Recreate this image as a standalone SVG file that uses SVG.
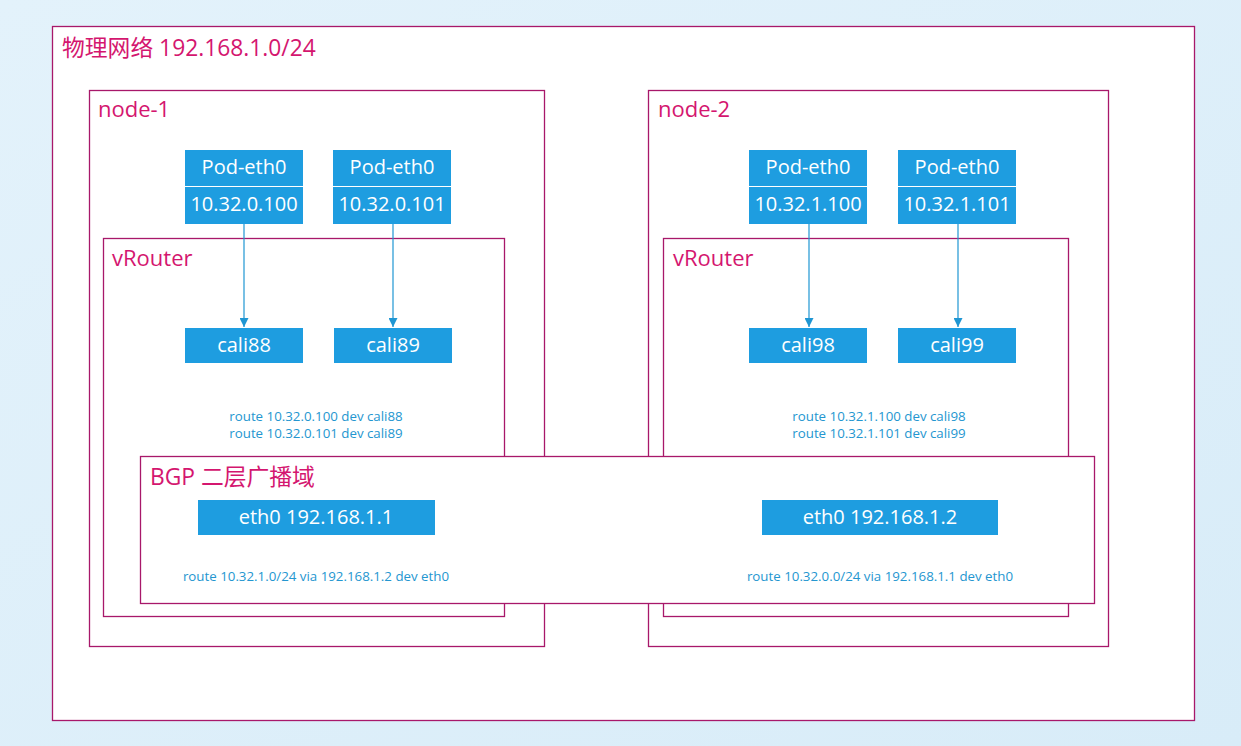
<svg xmlns="http://www.w3.org/2000/svg" width="1241" height="746" viewBox="0 0 1241 746">
<defs>
<linearGradient id="bg" x1="0" y1="0" x2="1" y2="1">
<stop offset="0" stop-color="#e3f2fb"/><stop offset="1" stop-color="#d8ecf8"/>
</linearGradient>
<marker id="arr" viewBox="0 0 10 10" refX="10" refY="5" markerWidth="9" markerHeight="9" markerUnits="userSpaceOnUse" orient="auto">
<path d="M0,0 L10,5 L0,10 z" fill="#1f96d3"/>
</marker>
<style>
.frame{fill:#fff;stroke:#a8186a;stroke-width:1.3}
.lbl{fill:#d4166f;font-family:"Open Sans","Noto Sans CJK SC",sans-serif;font-size:22px}
.big{font-size:22.8px}
.box{fill:#1e9de0}
.bt{fill:#fff;font-family:"Open Sans",sans-serif;font-size:20px;text-anchor:middle}
.rt{fill:#2496d0;font-family:"Open Sans",sans-serif;font-size:13.3px;text-anchor:middle}
.con{stroke:#1f96d3;stroke-width:1.2;fill:none}
</style>
</defs>
<rect width="1241" height="746" fill="url(#bg)"/>
<g id="physical">
<rect class="frame" x="52.5" y="26.5" width="1142" height="694"/>
<text class="lbl big" x="62" y="56">物理网络 192.168.1.0/24</text>
</g>
<g id="node-1">
<rect class="frame" x="89.5" y="90.5" width="455" height="556"/>
<text class="lbl" x="98" y="117">node-1</text>
</g>
<g id="node-2">
<rect class="frame" x="648.5" y="90.5" width="460" height="556"/>
<text class="lbl" x="658" y="117">node-2</text>
</g>
<g id="vrouter-1">
<rect class="frame" x="103.5" y="238.5" width="401" height="378"/>
<text class="lbl" x="112" y="266">vRouter</text>
<text class="rt" x="316" y="421">route 10.32.0.100 dev cali88</text>
<text class="rt" x="316" y="438">route 10.32.0.101 dev cali89</text>
</g>
<g id="vrouter-2">
<rect class="frame" x="663.5" y="238.5" width="405" height="378"/>
<text class="lbl" x="673" y="266">vRouter</text>
<text class="rt" x="879" y="421">route 10.32.1.100 dev cali98</text>
<text class="rt" x="879" y="438">route 10.32.1.101 dev cali99</text>
</g>
<g id="pod-1">
<rect class="box" x="185" y="150" width="118" height="74"/>
<line x1="185" y1="186.5" x2="303" y2="186.5" stroke="#fff" stroke-width="1"/>
<text class="bt" x="244" y="174">Pod-eth0</text>
<text class="bt" x="244" y="211">10.32.0.100</text>
</g>
<g id="pod-2">
<rect class="box" x="333" y="150" width="118" height="74"/>
<line x1="333" y1="186.5" x2="451" y2="186.5" stroke="#fff" stroke-width="1"/>
<text class="bt" x="392" y="174">Pod-eth0</text>
<text class="bt" x="392" y="211">10.32.0.101</text>
</g>
<g id="pod-3">
<rect class="box" x="749" y="150" width="118" height="74"/>
<line x1="749" y1="186.5" x2="867" y2="186.5" stroke="#fff" stroke-width="1"/>
<text class="bt" x="808" y="174">Pod-eth0</text>
<text class="bt" x="808" y="211">10.32.1.100</text>
</g>
<g id="pod-4">
<rect class="box" x="898" y="150" width="118" height="74"/>
<line x1="898" y1="186.5" x2="1016" y2="186.5" stroke="#fff" stroke-width="1"/>
<text class="bt" x="957" y="174">Pod-eth0</text>
<text class="bt" x="957" y="211">10.32.1.101</text>
</g>
<g id="cali88">
<rect class="box" x="185" y="328" width="118" height="35"/>
<text class="bt" x="244" y="352">cali88</text>
</g>
<g id="cali89">
<rect class="box" x="334" y="328" width="118" height="35"/>
<text class="bt" x="393" y="352">cali89</text>
</g>
<g id="cali98">
<rect class="box" x="749" y="328" width="118" height="35"/>
<text class="bt" x="808" y="352">cali98</text>
</g>
<g id="cali99">
<rect class="box" x="898" y="328" width="118" height="35"/>
<text class="bt" x="957" y="352">cali99</text>
</g>
<g id="bgp">
<rect class="frame" x="140.5" y="456.5" width="954" height="147"/>
<text class="lbl big" x="150" y="485">BGP 二层广播域</text>
<text class="rt" x="316" y="581">route 10.32.1.0/24 via 192.168.1.2 dev eth0</text>
<text class="rt" x="880" y="581">route 10.32.0.0/24 via 192.168.1.1 dev eth0</text>
</g>
<g id="eth0-1">
<rect class="box" x="198" y="500" width="237" height="35"/>
<text class="bt" x="316" y="524">eth0 192.168.1.1</text>
</g>
<g id="eth0-2">
<rect class="box" x="762" y="500" width="236" height="35"/>
<text class="bt" x="880" y="524">eth0 192.168.1.2</text>
</g>
<g id="connectors">
<line class="con" x1="244" y1="224" x2="244" y2="327" marker-end="url(#arr)"/>
<line class="con" x1="393" y1="224" x2="393" y2="327" marker-end="url(#arr)"/>
<line class="con" x1="809" y1="224" x2="809" y2="327" marker-end="url(#arr)"/>
<line class="con" x1="958" y1="224" x2="958" y2="327" marker-end="url(#arr)"/>
</g>
</svg>
